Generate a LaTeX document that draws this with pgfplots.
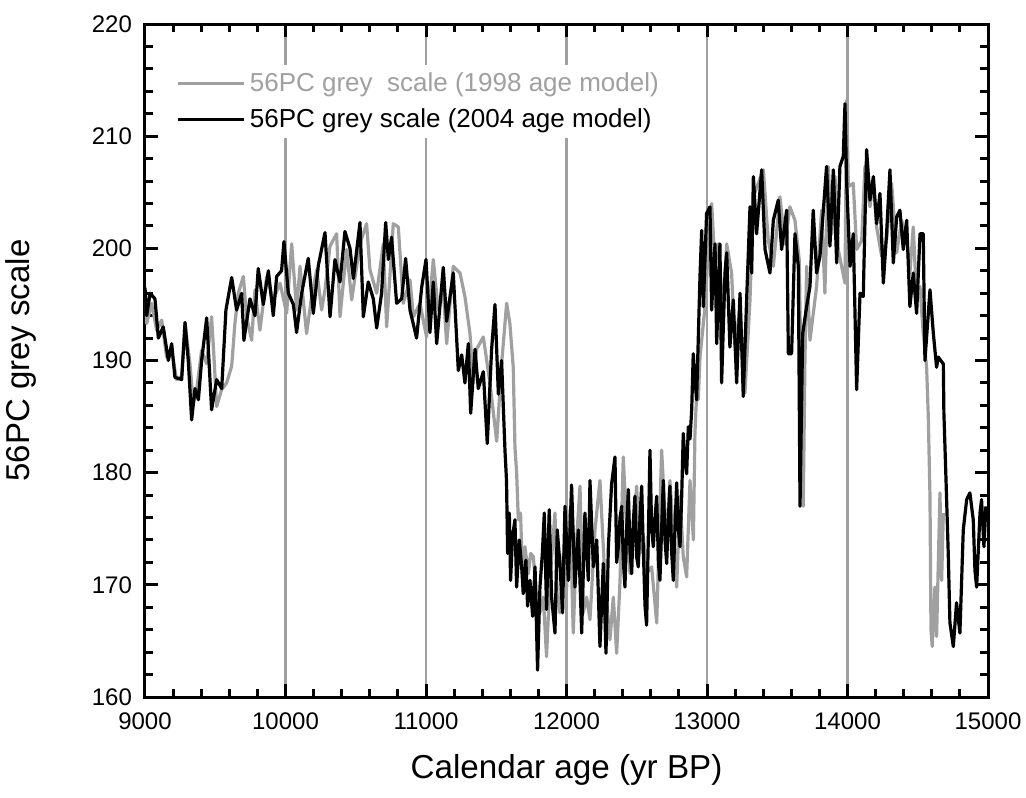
\documentclass[border=0pt]{standalone}
\usepackage{pgfplots}
\pgfplotsset{compat=1.18}
\usepackage{fontspec}
\setmainfont{Liberation Sans}
\definecolor{greyline}{HTML}{A0A0A0}

\begin{document}
\begin{tikzpicture}
\useasboundingbox (-72.5pt,-50pt) rectangle (440.5pt,348.5pt);
\begin{axis}[
scale only axis,width=421.5pt,height=336.5pt,
xmin=9000,xmax=15000,ymin=160,ymax=220,
xtick={9000,10000,...,15000},ytick={160,170,...,220},
scaled ticks=false,
minor x tick num=4,minor y tick num=4,
major tick length=6.5pt,minor tick length=4pt,
tick style={black,line width=1.5pt},
axis line style={line width=1.5pt},
xmajorgrids,major x grid style={greyline,line width=1.3pt},
/pgf/number format/assume math mode=true,
/pgf/number format/1000 sep={},
tick label style={font=\fontsize{12}{14}\selectfont},
xticklabel style={yshift=-4.5pt},
yticklabel style={xshift=-3pt},
xlabel={Calendar age (yr BP)},ylabel={56PC grey scale},
x label style={font=\fontsize{16.6}{20}\selectfont,at={(axis description cs:0.5,-0.1085)},anchor=center},
y label style={font=\fontsize{16.5}{20}\selectfont,at={(axis description cs:-0.147,0.5)},anchor=center},
legend style={at={(axis description cs:0.03,0.94)},anchor=north west,draw=none,fill=white,
  font=\fontsize{13}{15}\selectfont,row sep=3pt,legend cell align=left},
legend image code/.code={\draw[#1,line width=1.6pt] (0pt,0pt) -- (33pt,0pt);},
]
% 1998 age model
\addplot[greyline,line width=1.6pt,line join=round] coordinates {
(9000,195.5)(9012,193.3)(9047,195.1)(9083,192.7)(9119,193.6)(9154,190.3)(9190,190.9)(9225,188.3)(9261,188.6)
(9285,193.3)(9320,189.7)(9344,186.2)(9368,187.4)(9403,190.9)(9439,189.7)(9474,193.9)(9491,190.3)(9510,185.9)
(9545,187.4)(9581,188.0)(9617,189.5)(9640,193.3)(9664,196.0)(9700,197.5)(9723,193.9)(9759,191.8)(9783,196.3)
(9818,192.7)(9866,197.5)(9913,195.4)(9961,196.9)(10008,194.2)(10044,200.4)(10079,194.5)(10103,198.4)(10150,192.4)
(10186,195.7)(10222,198.1)(10257,194.5)(10281,196.3)(10317,200.2)(10364,201.3)(10388,193.9)(10435,199.9)(10471,195.4)
(10530,200.4)(10577,202.2)(10601,198.1)(10649,196.0)(10696,200.4)(10720,193.0)(10767,202.2)(10803,201.9)(10838,195.1)
(10886,197.2)(10910,193.9)(10957,195.1)(11004,192.1)(11052,199.0)(11087,194.5)(11123,196.3)(11147,191.5)(11194,198.4)
(11242,197.8)(11277,195.7)(11313,192.4)(11337,188.0)(11360,191.0)(11408,192.1)(11455,188.0)(11503,182.8)(11538,189.7)
(11574,195.1)(11597,193.3)(11621,189.4)(11633,182.3)(11645,180.0)(11657,175.8)(11673,176.4)(11688,170.4)(11704,173.4)
(11728,171.0)(11745,172.8)(11764,172.5)(11787,168.9)(11811,167.5)(11835,168.9)(11858,163.6)(11882,170.4)(11918,176.4)
(11934,168.9)(11953,167.5)(11977,172.8)(12001,169.8)(12025,176.7)(12048,165.7)(12072,174.0)(12096,178.8)(12119,167.5)
(12143,168.9)(12167,166.9)(12203,174.9)(12238,179.3)(12274,170.4)(12309,165.1)(12333,168.9)(12357,163.9)(12381,170.4)
(12404,181.4)(12428,174.9)(12452,171.0)(12475,174.9)(12499,178.8)(12523,172.8)(12547,174.3)(12570,171.0)(12606,171.6)
(12642,166.6)(12677,182.0)(12713,173.4)(12736,179.3)(12760,174.9)(12784,169.8)(12808,177.9)(12831,172.5)(12855,170.7)
(12879,179.3)(12903,174.0)(12914,183.5)(12931,188.3)(12938,186.5)(12950,190.3)(12986,194.8)(13009,199.9)(13033,204.0)
(13057,198.4)(13080,200.4)(13116,194.2)(13140,200.4)(13175,197.8)(13199,191.2)(13235,194.8)(13270,187.1)(13306,195.4)
(13330,204.6)(13365,205.8)(13401,207.0)(13436,200.7)(13472,198.4)(13519,204.6)(13555,200.4)(13590,203.7)(13626,202.5)
(13657,198.9)(13673,185.0)(13685,177.0)(13697,190.0)(13709,198.4)(13733,191.8)(13780,196.6)(13816,203.4)(13839,196.0)
(13863,207.3)(13887,201.3)(13911,206.4)(13934,199.9)(13958,198.4)(13982,196.9)(13994,213.2)(14006,205.5)(14041,205.8)
(14065,199.9)(14101,200.7)(14124,207.3)(14160,203.7)(14184,206.1)(14207,201.9)(14243,199.3)(14278,200.7)(14314,205.8)
(14350,199.6)(14385,202.5)(14421,200.7)(14444,197.8)(14468,201.9)(14492,195.4)(14516,196.6)(14539,192.4)(14563,189.4)
(14575,185.0)(14587,177.9)(14594,166.0)(14603,164.5)(14622,169.8)(14634,165.4)(14658,178.2)(14670,170.4)(14682,176.4)
};
\addlegendentry{\textcolor{greyline}{56PC grey\ \ scale (1998 age model)}}
% 2004 age model
\addplot[black,line width=1.6pt,line join=round] coordinates {
(9000,196.5)(9012,194.0)(9036,196.0)(9071,195.5)(9095,192.0)(9130,193.0)(9166,190.0)(9190,191.5)(9213,188.5)
(9261,188.3)(9285,193.4)(9308,190.0)(9332,184.7)(9356,187.5)(9380,186.5)(9403,190.0)(9439,193.8)(9474,185.6)
(9510,188.3)(9546,187.5)(9576,194.5)(9617,197.4)(9652,194.5)(9688,196.0)(9704,191.8)(9747,195.5)(9783,194.0)
(9806,198.2)(9842,195.0)(9878,198.0)(9913,194.0)(9937,197.5)(9972,198.0)(9989,200.6)(10020,196.0)(10056,195.0)
(10079,192.5)(10115,196.0)(10162,199.1)(10198,194.2)(10234,198.5)(10281,201.4)(10317,193.9)(10352,199.0)(10388,197.0)
(10423,201.5)(10459,200.0)(10483,197.3)(10530,202.3)(10554,193.9)(10589,197.0)(10625,195.5)(10649,192.9)(10684,196.0)
(10713,202.3)(10732,199.0)(10755,201.0)(10791,195.1)(10827,195.5)(10855,199.1)(10886,194.5)(10933,192.0)(10969,196.5)
(11000,199.0)(11028,192.5)(11052,197.0)(11076,191.5)(11123,198.3)(11147,193.5)(11194,197.8)(11230,189.1)(11254,190.5)
(11277,188.0)(11301,191.5)(11318,185.3)(11349,191.0)(11372,187.5)(11408,189.0)(11436,182.6)(11467,191.0)(11491,195.0)
(11515,187.0)(11538,190.0)(11562,182.0)(11573,179.3)(11581,172.8)(11593,176.4)(11602,170.4)(11616,174.3)(11633,175.8)
(11645,169.8)(11664,174.0)(11681,171.6)(11692,169.2)(11711,172.2)(11723,168.1)(11740,170.4)(11759,167.2)(11776,171.6)
(11794,162.4)(11811,169.8)(11828,172.8)(11842,176.4)(11858,167.8)(11877,176.7)(11894,168.9)(11918,165.7)(11934,174.9)
(11953,171.9)(11972,167.5)(11989,177.0)(12013,170.4)(12036,178.9)(12060,169.8)(12084,174.9)(12108,165.7)(12131,176.4)
(12155,170.4)(12167,179.3)(12191,171.6)(12215,174.0)(12238,164.5)(12262,171.9)(12281,163.9)(12298,173.4)(12321,179.0)
(12345,181.4)(12357,172.0)(12369,173.4)(12381,176.0)(12393,177.0)(12405,172.0)(12416,169.8)(12428,175.0)(12440,178.5)
(12452,173.0)(12464,171.0)(12475,175.5)(12487,177.9)(12499,172.5)(12511,171.6)(12523,176.0)(12535,178.8)(12547,173.0)
(12559,168.1)(12570,166.4)(12582,174.0)(12594,182.0)(12606,175.0)(12618,173.4)(12630,176.0)(12642,177.9)(12654,172.0)
(12665,170.4)(12677,175.0)(12689,179.3)(12701,174.0)(12713,171.9)(12725,176.0)(12736,178.8)(12748,173.0)(12760,170.4)
(12772,175.0)(12784,179.1)(12796,175.0)(12808,173.4)(12820,178.0)(12831,183.5)(12843,181.0)(12855,179.9)(12867,184.1)
(12879,183.0)(12891,185.6)(12902,190.6)(12914,188.3)(12926,186.5)(12950,197.5)(12962,201.6)(12974,194.8)(12997,203.1)
(13021,203.7)(13033,194.5)(13057,200.4)(13069,191.5)(13092,200.4)(13104,188.0)(13128,197.8)(13140,199.6)(13163,191.2)
(13187,195.4)(13211,188.0)(13235,196.0)(13258,186.8)(13282,195.4)(13306,203.7)(13318,197.8)(13330,206.4)(13353,201.3)
(13389,207.0)(13413,199.9)(13448,197.8)(13472,202.5)(13507,204.3)(13531,199.9)(13567,203.4)(13579,190.6)(13602,190.6)
(13626,201.3)(13650,198.4)(13662,177.0)(13681,192.4)(13709,194.8)(13733,196.6)(13756,203.4)(13780,197.8)(13804,199.3)
(13828,203.4)(13851,207.3)(13875,200.2)(13899,207.0)(13923,198.7)(13946,207.3)(13970,208.2)(13982,212.9)(13994,205.8)
(14018,198.4)(14041,201.3)(14065,187.4)(14089,196.0)(14112,195.7)(14136,208.8)(14160,204.3)(14184,206.4)(14207,202.2)
(14231,204.9)(14255,196.9)(14278,201.3)(14302,207.0)(14326,198.7)(14350,202.8)(14373,203.4)(14397,199.9)(14421,202.5)
(14444,194.8)(14468,197.8)(14492,194.2)(14516,201.3)(14539,201.3)(14551,190.0)(14587,196.3)(14611,192.4)(14634,189.4)
(14646,190.3)(14682,189.7)(14686,185.3)(14701,179.4)(14717,172.8)(14729,166.6)(14753,164.5)(14776,168.4)(14800,165.7)
(14824,174.9)(14848,177.6)(14871,178.2)(14895,175.8)(14907,171.3)(14919,169.8)(14943,176.4)(14954,177.6)(14971,173.4)
(14985,177.0)
};
\addlegendentry{56PC grey scale (2004 age model)}
\end{axis}
\end{tikzpicture}
\end{document}
